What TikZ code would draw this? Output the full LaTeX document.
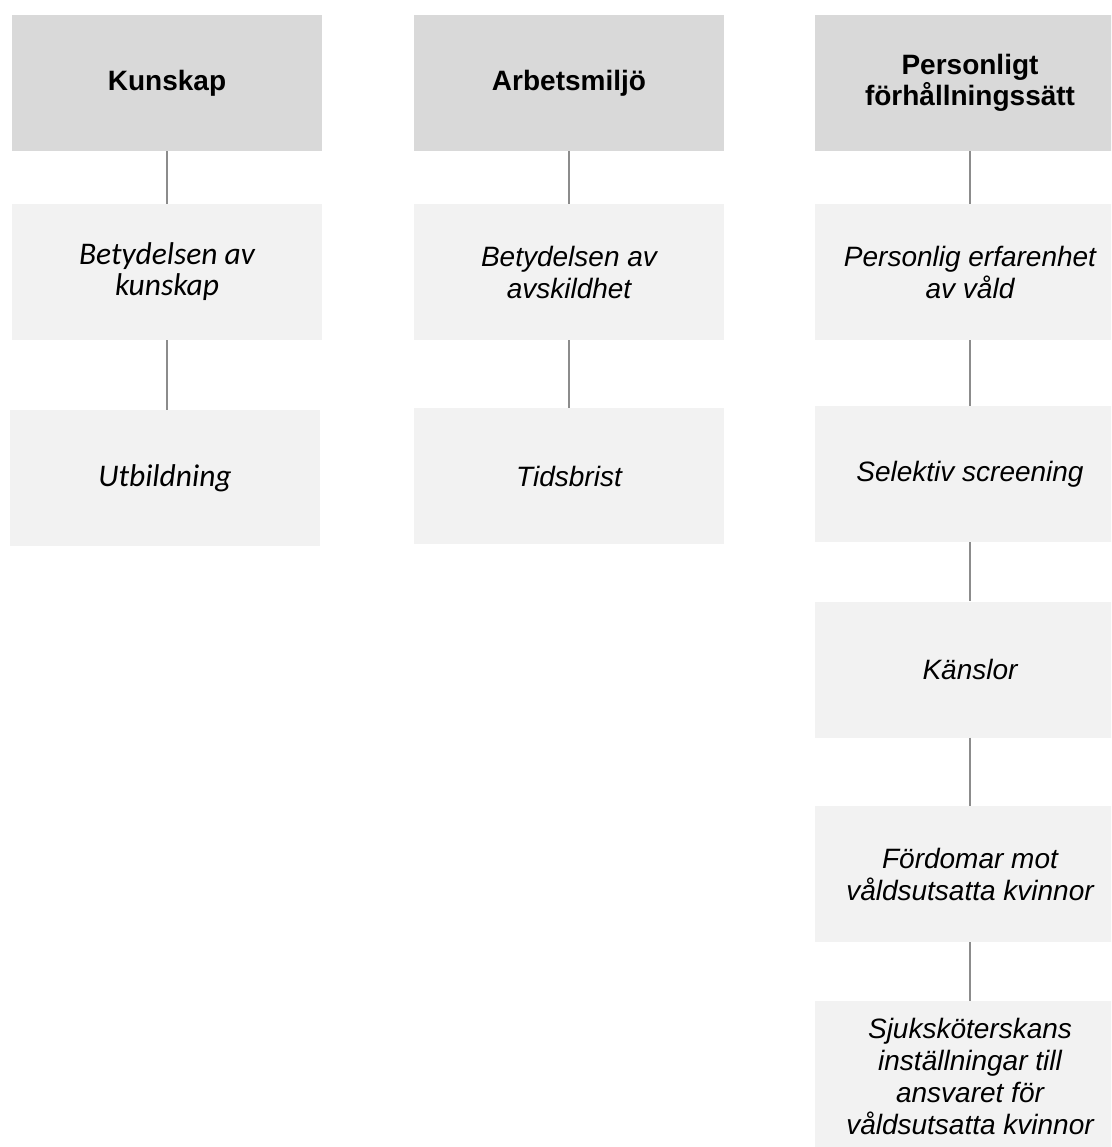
\documentclass[tikz,border=0pt]{standalone}
\usepackage{fontspec}
\setmainfont{Liberation Sans}
\newfontfamily\calfont{Carlito}
\definecolor{headgray}{HTML}{D9D9D9}
\definecolor{subgray}{HTML}{F2F2F2}
\definecolor{linegray}{HTML}{8C8C8C}
\begin{document}
\begin{tikzpicture}[x=1pt,y=-1pt,
  box/.style={rectangle, inner sep=0pt, minimum width=310pt, minimum height=136pt, align=center, text=black},
  head/.style={box, fill=headgray, font=\fontsize{28}{31}\selectfont\bfseries},
  sub/.style={box, fill=subgray, font=\fontsize{28}{32}\selectfont\itshape},
  subc/.style={box, fill=subgray, font=\fontsize{31.5}{31}\selectfont\calfont\itshape},
  link/.style={draw=linegray, line width=1.5pt}]
\useasboundingbox (0,0) rectangle (1111,1147);
\clip (0,0) rectangle (1111,1147);
% column 1
\node[head] (k0) at (167,83) {Kunskap};
\node[subc] (k1) at (167,272) {Betydelsen av\\kunskap};
\node[subc] (k2) at (165,478) {Utbildning};
% column 2
\node[head] (a0) at (569,83) {Arbetsmiljö};
\node[sub] (a1) at (569,272) {Betydelsen av\\avskildhet};
\node[sub] (a2) at (569,476) {Tidsbrist};
% column 3
\node[head] (p0) at (970,83) {Personligt\\förhållningssätt};
\node[sub] (p1) at (970,272) {Personlig erfarenhet\\av våld};
\node[sub] (p2) at (970,474) {Selektiv screening};
\node[sub] (p3) at (970,669.5) {Känslor};
\node[sub] (p4) at (970,874) {Fördomar mot\\våldsutsatta kvinnor};
\node[sub, minimum height=150pt] (p5) at (970,1076) {Sjuksköterskans\\inställningar till\\ansvaret för\\våldsutsatta kvinnor};
% connectors
\draw[link] (k0.south) -- (k1.north);
\draw[link] (k1.south) -- (k1.south |- k2.north);
\draw[link] (a0.south) -- (a1.north);
\draw[link] (a1.south) -- (a2.north);
\draw[link] (p0.south) -- (p1.north);
\draw[link] (p1.south) -- (p2.north);
\draw[link] (p2.south) -- (p3.north);
\draw[link] (p3.south) -- (p4.north);
\draw[link] (p4.south) -- (p5.north);
\end{tikzpicture}
\end{document}
